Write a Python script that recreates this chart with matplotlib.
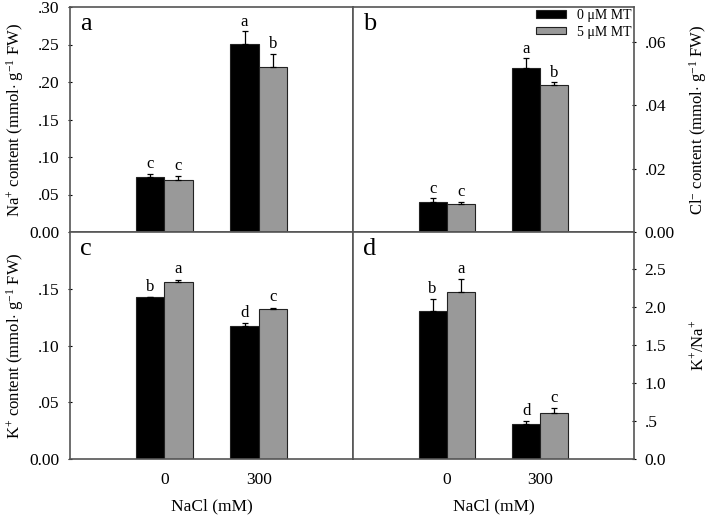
import matplotlib
matplotlib.use("Agg")
import matplotlib.pyplot as plt
import numpy as np

plt.rcParams['font.family'] = ['Liberation Serif', 'DejaVu Serif']
plt.rcParams['mathtext.fontset'] = 'custom'
plt.rcParams['mathtext.rm'] = 'Liberation Serif'
plt.rcParams['mathtext.it'] = 'Liberation Serif:italic'

categories = ['0', '300']
series_names = ['0 μM MT', '5 μM MT']
colors = ['#000000', '#999999']

na_vals = [[0.073, 0.251], [0.070, 0.220]]
na_err = [[0.005, 0.017], [0.005, 0.018]]
na_letters = [['c', 'a'], ['c', 'b']]

cl_vals = [[0.0094, 0.0519], [0.0088, 0.0465]]
cl_err = [[0.0012, 0.0030], [0.0007, 0.0008]]
cl_letters = [['c', 'a'], ['c', 'b']]

k_vals = [[0.1427, 0.1174], [0.1565, 0.1324]]
k_err = [[0.0, 0.0027], [0.0018, 0.0012]]
k_letters = [['b', 'd'], ['a', 'c']]

ratio_vals = [[1.95, 0.46], [2.20, 0.60]]
ratio_err = [[0.16, 0.04], [0.17, 0.066]]
ratio_letters = [['b', 'd'], ['a', 'c']]

W, H = 709, 516
fig = plt.figure(figsize=(W / 100, H / 100), dpi=100)

def ax_at(x0, y0, x1, y1):
    return fig.add_axes([x0 / W, 1 - y1 / H, (x1 - x0) / W, (y1 - y0) / H])

axa = ax_at(70, 7, 353, 232)
axb = ax_at(353, 7, 634, 232)
axc = ax_at(70, 232, 353, 459)
axd = ax_at(353, 232, 634, 459)

x = np.arange(len(categories))
bw = 0.3
spine_col = '#555555'

def draw(ax, vals, errs, letters, ylim, ticks, ticklabels, ylabel, right, letter, ltxt_off, show_x, box):
    x0, y0, x1, y1 = box
    for i in range(2):
        pos = x + (i - 0.5) * bw
        ax.bar(pos, vals[i], width=bw, color=colors[i], edgecolor='#222222', linewidth=0.8,
               label=series_names[i], zorder=2)
        e = np.array(errs[i])
        ax.errorbar(pos, vals[i], yerr=[np.zeros_like(e), e], fmt='none', ecolor='black',
                    elinewidth=0.9, capsize=2.5, capthick=0.9, zorder=3)
        for j in range(len(x)):
            top = vals[i][j] + errs[i][j]
            ax.text(pos[j], top + ltxt_off, letters[i][j], ha='center', va='bottom', fontsize=12)
    ax.set_xlim(-1, 2)
    ax.set_ylim(*ylim)
    ax.set_yticks(ticks)
    ax.set_yticklabels(ticklabels, fontsize=12.5)
    for s in ax.spines.values():
        s.set_color(spine_col)
        s.set_linewidth(1.2)
    if right:
        ax.yaxis.tick_right()
        ax.yaxis.set_label_position('right')
    ax.tick_params(axis='y', direction='inout', length=3, width=0.8, colors='black', pad=6)
    ax.set_ylabel(ylabel, fontsize=12, rotation=90, va='center', ha='center')
    lx = 15 if not right else 698
    ax.yaxis.set_label_coords((lx - x0) / (x1 - x0), 0.5)
    if show_x:
        ax.set_xticks(x)
        ax.set_xticklabels(categories, fontsize=12.5)
        ax.tick_params(axis='x', length=0, pad=9)
        ax.set_xlabel('NaCl (mM)', fontsize=12.5, va='center')
        ax.xaxis.set_label_coords(0.5, -(506 - y1) / (y1 - y0))
    else:
        ax.set_xticks([])
    ax.text(0.035, 0.975, letter, transform=ax.transAxes, ha='left', va='top', fontsize=19)

draw(axa, na_vals, na_err, na_letters, (0, 0.30),
     [0, 0.05, 0.10, 0.15, 0.20, 0.25, 0.30], ['0.00', '.05', '.10', '.15', '.20', '.25', '.30'],
     r'Na$^{+}$ content (mmol$\cdot$ g$^{-1}$ FW)', False, 'a', 0.002, False, (70, 7, 353, 232))
draw(axb, cl_vals, cl_err, cl_letters, (0, 0.0711),
     [0, 0.02, 0.04, 0.06], ['0.00', '.02', '.04', '.06'],
     r'Cl$^{-}$ content (mmol$\cdot$ g$^{-1}$ FW)', True, 'b', 0.0005, False, (353, 7, 634, 232))
draw(axc, k_vals, k_err, k_letters, (0, 0.2003),
     [0, 0.05, 0.10, 0.15], ['0.00', '.05', '.10', '.15'],
     r'K$^{+}$ content (mmol$\cdot$ g$^{-1}$ FW)', False, 'c', 0.002, True, (70, 232, 353, 459))
draw(axd, ratio_vals, ratio_err, ratio_letters, (0, 2.99),
     [0, 0.5, 1.0, 1.5, 2.0, 2.5], ['0.0', '.5', '1.0', '1.5', '2.0', '2.5'],
     r'K$^{+}$/Na$^{+}$', True, 'd', 0.03, True, (353, 232, 634, 459))

axb.legend(loc='upper right', bbox_to_anchor=(1.0, 1.0), frameon=False, fontsize=10,
           handlelength=2.2, handleheight=0.45, handletextpad=0.8, borderpad=0.15,
           labelspacing=0.25, borderaxespad=0.0)

fig.savefig('out.png', dpi=100)
